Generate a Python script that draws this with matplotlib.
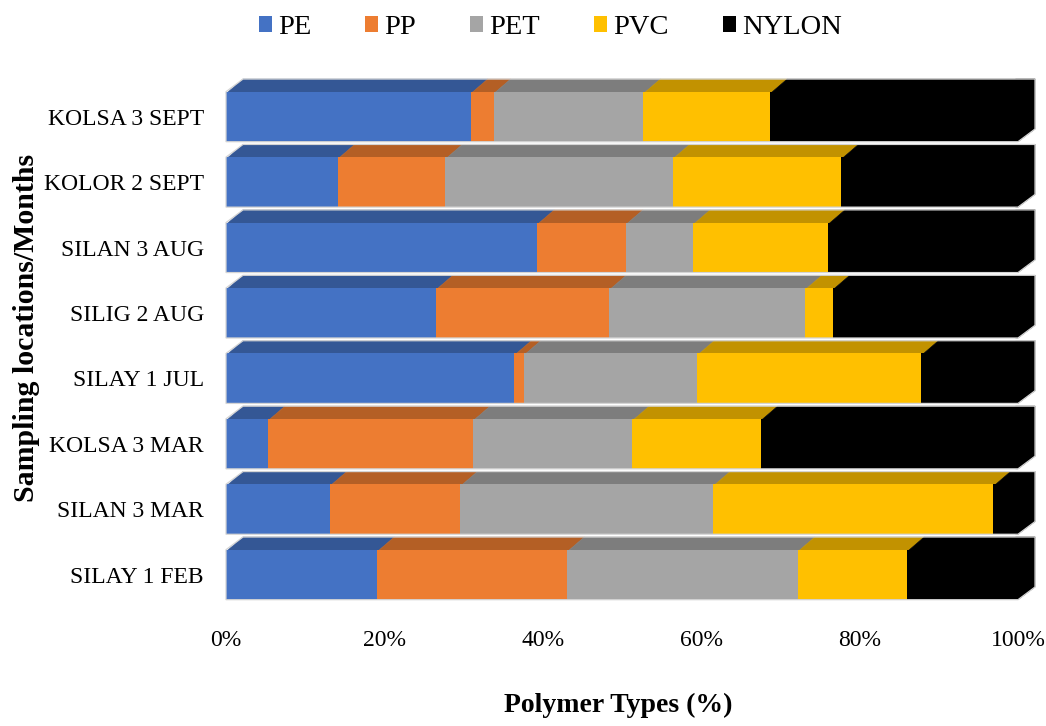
import matplotlib
matplotlib.use("Agg")
import matplotlib.pyplot as plt
from matplotlib.patches import Polygon, Patch
import matplotlib.colors as mcolors
import numpy as np

plt.rcParams['font.family'] = ['Liberation Serif', 'DejaVu Serif']

# Sampling sites (bottom to top)
locations = ["SILAY 1 FEB", "SILAN 3 MAR", "KOLSA 3 MAR", "SILAY 1 JUL",
             "SILIG 2 AUG", "SILAN 3 AUG", "KOLOR 2 SEPT", "KOLSA 3 SEPT"]

polymers = ["PE", "PP", "PET", "PVC", "NYLON"]

# Percentage share of each polymer type per site (same order as locations)
pe    = [19.1, 13.1,  5.3, 36.4, 26.5, 39.3, 14.1, 30.9]
pp    = [24.0, 16.5, 25.9,  1.2, 21.9, 11.2, 13.6,  2.9]
pet   = [29.1, 31.9, 20.1, 21.9, 24.7,  8.5, 28.7, 18.9]
pvc   = [13.8, 35.4, 16.2, 28.3,  3.5, 17.0, 21.3, 16.0]
nylon = [14.0,  3.1, 32.5, 12.2, 23.4, 24.0, 22.3, 31.3]

colors = ["#4472C4", "#ED7D31", "#A5A5A5", "#FFC000", "#000000"]
xticks = [0, 20, 40, 60, 80, 100]
xtick_labels = ["0%", "20%", "40%", "60%", "80%", "100%"]

series = [pe, pp, pet, pvc, nylon]

fig = plt.figure(figsize=(10.46, 7.26), dpi=100)
ax = fig.add_axes([226 / 1046, 1 - 607.4 / 726, (1018 - 226) / 1046, 523.4 / 726])

y = np.arange(len(locations))
h = 0.764           # front face height (category units)
dx = 2.15           # depth offset in x (percent units)
dy = 0.194          # depth offset in y (category units)
ov = 0.03           # small overlap so faces join without seams


def shade(c, f=0.76):
    r, g, b = mcolors.to_rgb(c)
    return (r * f, g * f, b * f)


left = np.zeros(len(locations))
for vals, col, name in zip(series, colors, polymers):
    vals = np.array(vals, dtype=float)
    ax.barh(y, vals, left=left, height=h, color=col, edgecolor='none',
            zorder=3, label=name)
    top_col = shade(col)
    for yi, a, w in zip(y, left, vals):
        b = a + w
        yt = yi + h / 2
        ax.add_patch(Polygon([(a, yt - ov), (b, yt - ov), (b + dx, yt + dy), (a + dx, yt + dy)],
                             closed=True, facecolor=top_col, edgecolor=top_col,
                             linewidth=0.4, zorder=2, clip_on=False))
    left = left + vals

# right-hand side faces and a faint outline around each bar
for yi, total in zip(y, left):
    yb, yt = yi - h / 2, yi + h / 2
    ax.add_patch(Polygon([(total - 0.3, yb), (total, yb), (total + dx, yb + dy),
                          (total + dx, yt + dy), (total - 0.3, yt + dy)],
                         closed=True, facecolor=colors[-1], edgecolor=colors[-1],
                         linewidth=0.4, zorder=2, clip_on=False))
    ax.add_patch(Polygon([(0, yb), (total, yb), (total + dx, yb + dy), (total + dx, yt + dy),
                          (dx, yt + dy), (0, yt)],
                         closed=True, facecolor='none', edgecolor='#D4D4D4',
                         linewidth=0.9, zorder=4, clip_on=False))

ax.set_xlim(0, 100)
ax.set_ylim(-0.5, len(locations) - 0.5)
ax.set_xticks(xticks)
ax.set_xticklabels(xtick_labels)
ax.set_yticks(y)
ax.set_yticklabels(locations)
ax.tick_params(axis='both', length=0, labelsize=17)
ax.tick_params(axis='x', pad=16)
ax.tick_params(axis='y', pad=16)
for s in ax.spines.values():
    s.set_visible(False)

fig.text(0.591, 0.019, "Polymer Types (%)", ha='center', va='baseline',
         fontsize=20, fontweight='bold')
fig.text(0.025, 1 - 327.5 / 726, "Sampling locations/Months", ha='center', va='center',
         rotation=90, fontsize=21.5, fontweight='bold')

handles = [Patch(facecolor=c, edgecolor='none') for c in colors]
fig.legend(handles, polymers, loc='center', bbox_to_anchor=(0.526, 0.962),
           ncol=5, frameon=False, fontsize=20.5, handlelength=0.45,
           handleheight=0.45, handletextpad=0.22, columnspacing=1.9,
           borderaxespad=0, borderpad=0)

fig.savefig("out.png", dpi=100)
